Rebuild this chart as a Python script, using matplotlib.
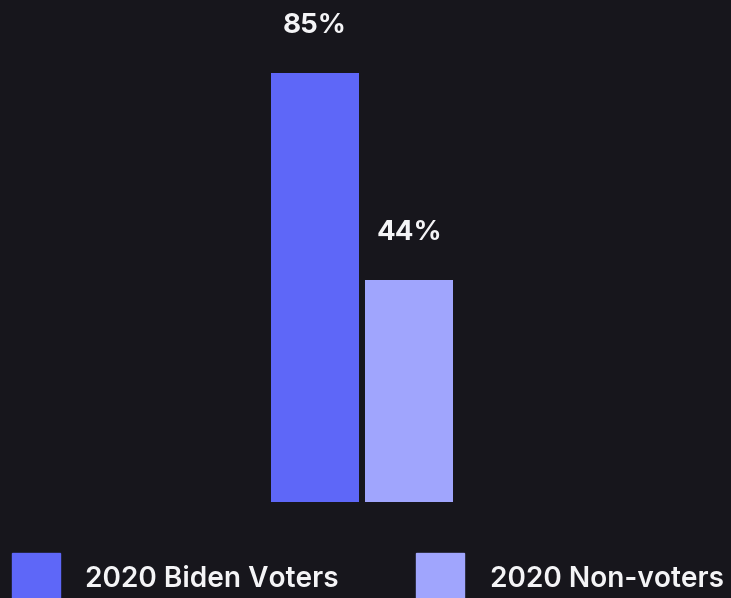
import matplotlib.pyplot as plt
from matplotlib.patches import Rectangle

groups = ["2020 Biden Voters", "2020 Non-voters"]
values = [85, 44]
labels = ["85%", "44%"]

BG = "#17161c"
colors = ["#5e67f8", "#a0a5fd"]
TXT = "#f4f4f6"
W, H = 731, 598

plt.rcParams["font.family"] = ["Inter", "DejaVu Sans"]

fig = plt.figure(figsize=(W / 100, H / 100), dpi=100, facecolor=BG)
ax = fig.add_axes([0, 0, 1, 1])
ax.set_facecolor(BG)

# map data to pixels: bar centers 94 px apart, 85% = 429 px tall, baseline at y=502
px_per_unit = 94
px_per_pct = 429 / 85
ax.set_xlim(-315 / px_per_unit, (W - 315) / px_per_unit)
ax.set_ylim(-(H - 502) / px_per_pct, 502 / px_per_pct)

x = list(range(len(values)))
bars = ax.bar(x, values, width=88 / px_per_unit, color=colors)

for xi, v, lab in zip(x, values, labels):
    ax.annotate(lab, (xi, v), xytext=(0, 28.8), textcoords="offset points",
                ha="center", va="baseline", color=TXT, fontsize=20, fontweight="bold")

ax.axis("off")

# legend drawn along the bottom edge, squares run off the figure
for i, (g, c) in enumerate(zip(groups, colors)):
    x0 = [12, 416][i]
    fig.add_artist(Rectangle((x0 / W, -0.02), 48 / W, (H - 553) / H + 0.02,
                             transform=fig.transFigure, color=c, clip_on=False))
    fig.text([85, 490][i] / W, (H - 587) / H, g, color=TXT, fontsize=20.2,
             fontweight="semibold", ha="left", va="baseline")

fig.savefig("out.png", dpi=100, facecolor=BG)
